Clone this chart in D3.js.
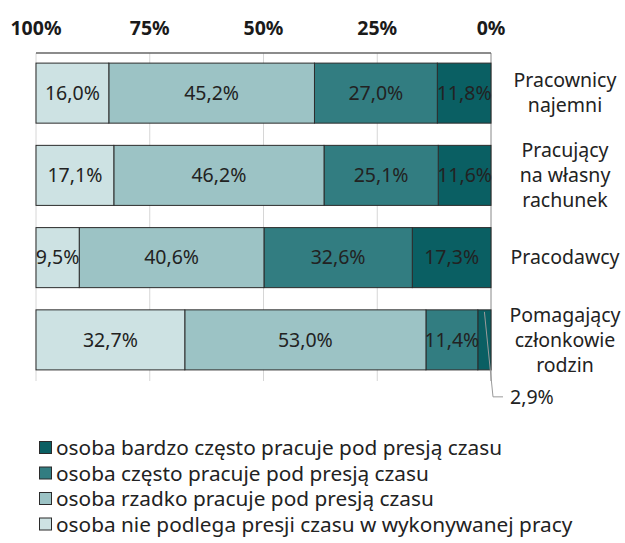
<!DOCTYPE html>
<html><head><meta charset="utf-8">
<script src="https://cdn.jsdelivr.net/npm/d3@7"></script>
<style>
html,body{margin:0;padding:0;background:#fff;}
svg{display:block;font-family:"Noto Sans",sans-serif;}
</style></head>
<body>
<svg id="chart" width="625" height="543"></svg>
<script>
const categories = ["Pracownicy najemni", "Pracujący na własny rachunek", "Pracodawcy", "Pomagający członkowie rodzin"];
const categoryLines = [["Pracownicy","najemni"],["Pracujący","na własny","rachunek"],["Pracodawcy"],["Pomagający","członkowie","rodzin"]];
const seriesNames = ["osoba bardzo często pracuje pod presją czasu","osoba często pracuje pod presją czasu","osoba rzadko pracuje pod presją czasu","osoba nie podlega presji czasu w wykonywanej pracy"];
const bardzoCzesto = [11.8, 11.6, 17.3, 2.9];
const czesto = [27.0, 25.1, 32.6, 11.4];
const rzadko = [45.2, 46.2, 40.6, 53.0];
const niePodlega = [16.0, 17.1, 9.5, 32.7];
const tickValues = [100, 75, 50, 25, 0];
const colors = ["#0a5f63","#327d81","#9cc3c5","#cde2e3"];

const svg = d3.select("#chart");
const x = d3.scaleLinear().domain([0,100]).range([491,36]);
const y = d3.scaleBand().domain(categories).range([52,381]).paddingInner(0.27).paddingOuter(0.135);

const seriesVals = [bardzoCzesto, czesto, rzadko, niePodlega];
const rows = categories.map((c,i)=>{const o={cat:c}; seriesNames.forEach((s,j)=>o[s]=seriesVals[j][i]); return o;});
const stack = d3.stack().keys(seriesNames)(rows);

const fmt = v => d3.format(".1f")(v).replace(".", ",") + "%";

// gridlines
svg.append("g").selectAll("line").data(tickValues).join("line")
  .attr("x1", d=>x(d)).attr("x2", d=>x(d)).attr("y1", 53).attr("y2", 381)
  .attr("stroke", d=> d===0 ? "#888" : "#d6d6d6").attr("stroke-width", 1);
// top axis line
svg.append("line").attr("x1", x(100)).attr("x2", x(0)).attr("y1", 53).attr("y2", 53)
  .attr("stroke", "#666").attr("stroke-width", 1.5);

// tick labels
svg.append("g").selectAll("text").data(tickValues).join("text")
  .attr("x", d=>x(d)).attr("y", 28).attr("dy","0.35em").attr("text-anchor","middle")
  .attr("font-weight","bold").attr("font-size", 19.5).attr("fill","#1a1a1a")
  .text(d=>d+"%");

// bars
const g = svg.append("g");
stack.forEach((layer,j)=>{
  const gl = g.append("g");
  gl.selectAll("rect").data(layer).join("rect")
    .attr("x", d=>x(d[1])).attr("width", d=>x(d[0])-x(d[1]))
    .attr("y", d=>y(d.data.cat)).attr("height", y.bandwidth())
    .attr("fill", colors[j]).attr("stroke","#2b2b2b").attr("stroke-width",1);
  gl.selectAll("text").data(layer.filter(d=>d[1]-d[0]>=5)).join("text")
    .attr("x", d=>(x(d[0])+x(d[1]))/2).attr("y", d=>y(d.data.cat)+y.bandwidth()/2)
    .attr("dy","0.35em").attr("text-anchor","middle").attr("font-size",19.5).attr("fill","#222")
    .text(d=>fmt(d[1]-d[0]));
});

// small label with leader
stack[0].forEach(d=>{
  if (d[1]-d[0] < 5) {
    const cx = (x(d[0])+x(d[1]))/2;
    const yb = y(d.data.cat);
    svg.append("path").attr("d", `M${cx},${yb+2} L${x(0)+2},${yb+87} L${x(0)+12},${yb+87}`)
      .attr("fill","none").attr("stroke","#9a9a9a").attr("stroke-width",1);
    svg.append("text").attr("x", x(0)+19).attr("y", yb+87).attr("dy","0.35em")
      .attr("font-size",19.5).attr("fill","#222").text(fmt(d[1]-d[0]));
  }
});

// category labels
categories.forEach((c,i)=>{
  const lines = categoryLines[i];
  const cy = y(c)+y.bandwidth()/2;
  const lh = 25;
  const t = svg.append("text").attr("text-anchor","middle").attr("font-size",19.5).attr("fill","#222");
  lines.forEach((l,k)=>{
    t.append("tspan").attr("x",565).attr("y", cy + (k-(lines.length-1)/2)*lh).attr("dy","0.35em").text(l);
  });
});

// legend
const leg = svg.append("g");
seriesNames.forEach((s,j)=>{
  const yy = 448 + j*25.5;
  leg.append("rect").attr("x",39.5).attr("y",yy-6.5).attr("width",12).attr("height",12)
    .attr("fill",colors[j]).attr("stroke","#2b2b2b").attr("stroke-width",1);
  leg.append("text").attr("x",56).attr("y",yy).attr("dy","0.35em").attr("font-size",20.8).attr("fill","#222").text(s);
});
</script>
</body></html>
